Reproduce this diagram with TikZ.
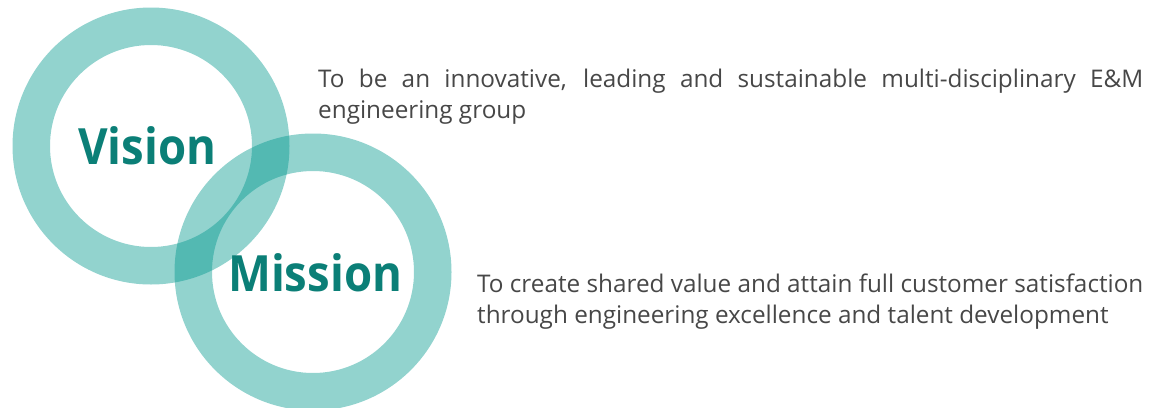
\documentclass[tikz,border=0pt]{standalone}
\usepackage{fontspec}
\setmainfont{Open Sans}
\newfontfamily\headfont{Open Sans}[UprightFont=* Bold, FakeStretch=0.91]
\definecolor{ringteal}{HTML}{02988E}
\definecolor{headteal}{HTML}{0B7F77}
\definecolor{bodygray}{HTML}{474747}
\begin{document}
\begin{tikzpicture}[x=1pt,y=-1pt,
  ring/.style={fill=ringteal, fill opacity=0.43, even odd rule},
  headword/.style={anchor=base west, inner sep=0pt, text=headteal,
    font=\headfont\fontsize{50}{50}\selectfont},
  statement/.style={anchor=base west, inner sep=0pt, text=bodygray,
    font=\fontsize{24.3}{31}\selectfont}]
  \useasboundingbox (0,0) rectangle (1156,407);
  % ring centres
  \coordinate (vc) at (151,146);
  \coordinate (mc) at (313,272);
  % two translucent rings; their overlap darkens
  \fill[ring] (vc) circle (138.5pt) (vc) circle (101pt);
  \fill[ring] (mc) circle (138.5pt) (mc) circle (101pt);
  % headings
  \node[headword] (vision) at (78,164) {Vision};
  \node[headword] (mission) at (228,291) {Mission};
  % statements
  \node[statement, text width=825pt, align=justify] (visiontext) at (318,87)
    {To be an innovative, leading and sustainable multi-disciplinary E\&M\linebreak
     engineering group};
  \node[statement, align=left] (missiontext) at (477,323)
    {To create shared value and attain full customer satisfaction\\
     through engineering excellence and talent development};
\end{tikzpicture}
\end{document}
